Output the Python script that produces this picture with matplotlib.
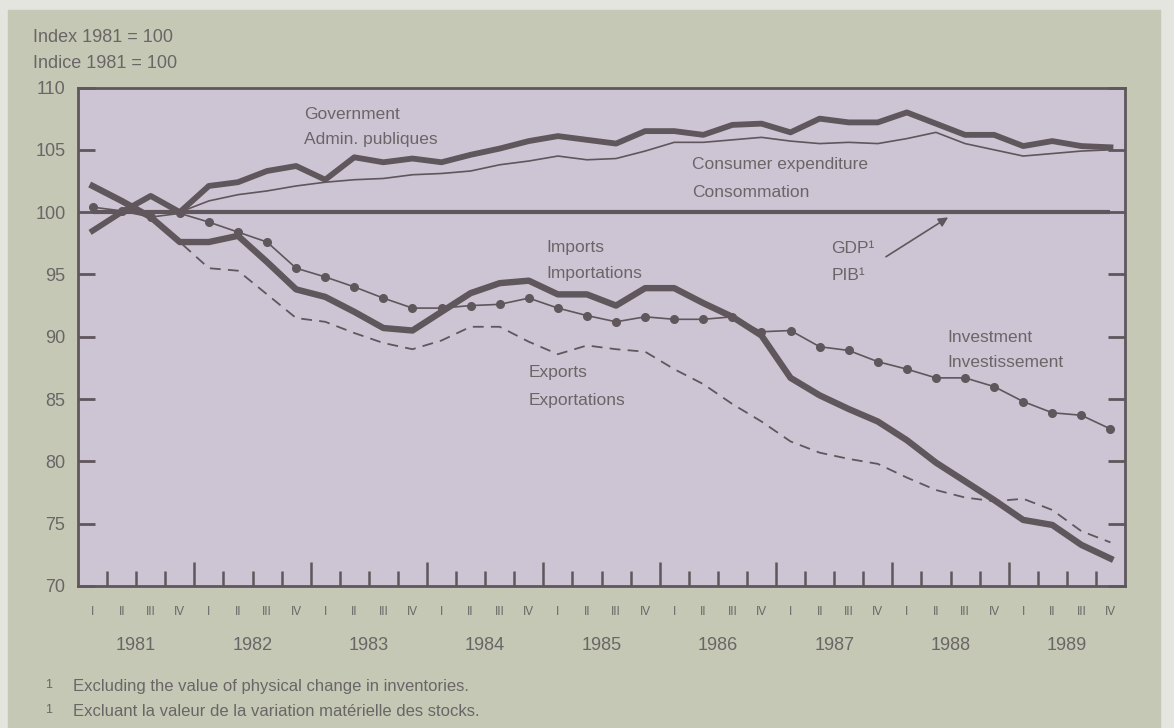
import matplotlib.pyplot as plt
import numpy as np
from matplotlib.patches import Rectangle

plt.rcParams['font.family'] = ['Liberation Sans', 'DejaVu Sans']

# quarterly data 1981 I - 1989 IV, index 1981 = 100
years = ['1981', '1982', '1983', '1984', '1985', '1986', '1987', '1988', '1989']
quarters = ['I', 'II', 'III', 'IV']

gdp = [100.0] * 36
government = [98.5, 100.0, 101.3, 100.0, 102.1, 102.4, 103.3, 103.7, 102.6, 104.4, 104.0, 104.3,
              104.0, 104.6, 105.1, 105.7, 106.1, 105.8, 105.5, 106.5, 106.5, 106.2, 107.0, 107.1,
              106.4, 107.5, 107.2, 107.2, 108.0, 107.1, 106.2, 106.2, 105.3, 105.7, 105.3, 105.2]
consumer = [100.0, 100.0, 100.0, 100.0, 100.9, 101.4, 101.7, 102.1, 102.4, 102.6, 102.7, 103.0,
            103.1, 103.3, 103.8, 104.1, 104.5, 104.2, 104.3, 104.9, 105.6, 105.6, 105.8, 106.0,
            105.7, 105.5, 105.6, 105.5, 105.9, 106.4, 105.5, 105.0, 104.5, 104.7, 104.9, 105.0]
imports = [102.1, 100.9, 99.6, 97.6, 97.6, 98.1, 96.0, 93.8, 93.2, 92.0, 90.7, 90.5,
           92.0, 93.5, 94.3, 94.5, 93.4, 93.4, 92.5, 93.9, 93.9, 92.7, 91.6, 90.1,
           86.7, 85.3, 84.2, 83.2, 81.7, 79.9, 78.4, 76.9, 75.3, 74.9, 73.3, 72.2]
investment = [100.4, 100.1, 99.6, 99.9, 99.2, 98.4, 97.6, 95.5, 94.8, 94.0, 93.1, 92.3,
              92.3, 92.5, 92.6, 93.1, 92.3, 91.7, 91.2, 91.6, 91.4, 91.4, 91.6, 90.4,
              90.5, 89.2, 88.9, 88.0, 87.4, 86.7, 86.7, 86.0, 84.8, 83.9, 83.7, 82.6]
exports = [102.1, 100.9, 99.6, 97.6, 95.5, 95.3, 93.4, 91.5, 91.2, 90.3, 89.5, 89.0,
           89.7, 90.8, 90.8, 89.6, 88.6, 89.3, 89.0, 88.8, 87.4, 86.2, 84.6, 83.2,
           81.6, 80.7, 80.2, 79.8, 78.7, 77.7, 77.1, 76.8, 77.0, 76.1, 74.4, 73.5]

ink = '#5f575c'
txt = '#6a6667'
green = '#c4c8b4'
lavender = '#cec5d4'

fig = plt.figure(figsize=(11.74, 7.28), dpi=100, facecolor='#e3e5de')
fig.patches.append(Rectangle((8 / 1174, 0), 1152 / 1174, 1 - 10 / 728,
                             transform=fig.transFigure, color=green, zorder=-1))

ax = fig.add_axes([78 / 1174, 1 - 586 / 728, 1047 / 1174, 498.5 / 728])
ax.set_facecolor(lavender)

x = np.arange(36) + 0.5
ax.plot(x, gdp, color=ink, lw=3.0, solid_capstyle='butt', zorder=3)
ax.plot(x, consumer, color=ink, lw=1.2, zorder=3)
ax.plot(x, government, color=ink, lw=4.2, solid_joinstyle='round', zorder=4)
ax.plot(x, exports, color=ink, lw=1.3, dashes=(6, 4), zorder=3)
ax.plot(x, investment, color=ink, lw=1.2, marker='o', ms=5.5, zorder=4)
ax.plot(x, imports, color=ink, lw=4.6, solid_joinstyle='round', zorder=5)

ax.set_xlim(0, 36)
ax.set_ylim(70, 110)
for s in ax.spines.values():
    s.set_color(ink)
    s.set_linewidth(2)

ax.set_yticks(np.arange(70, 111, 5))
ax.tick_params(axis='y', direction='in', length=12, width=2, color=ink,
               labelsize=13, labelcolor=txt, pad=9, right=True)
ax.set_xticks(np.arange(4, 36, 4))
ax.set_xticks(np.arange(1, 36), minor=True)
ax.tick_params(axis='x', which='major', direction='in', length=17, width=1.8, color=ink, labelbottom=False)
ax.tick_params(axis='x', which='minor', direction='in', length=11, width=1.8, color=ink)

xt = ax.get_xaxis_transform()
for i in range(36):
    ax.text(i + 0.5, -0.052, quarters[i % 4], transform=xt, ha='center', va='center',
            fontsize=8.5, color=txt)
for j, y in enumerate(years):
    ax.text(j * 4 + 2, -0.12, y, transform=xt, ha='center', va='center', fontsize=13, color=txt)

# series labels
lab = dict(ha='left', va='center', fontsize=12.5, color=txt)
ax.text(7.77, 107.8, 'Government', **lab)
ax.text(7.77, 105.8, 'Admin. publiques', **lab)
ax.text(21.1, 103.8, 'Consumer expenditure', **lab)
ax.text(21.1, 101.6, 'Consommation', **lab)
ax.text(25.9, 97.1, 'GDP\u00b9', **lab)
ax.text(25.9, 94.95, 'PIB\u00b9', **lab)
ax.text(16.1, 97.2, 'Imports', **lab)
ax.text(16.1, 95.1, 'Importations', **lab)
ax.text(15.5, 87.1, 'Exports', **lab)
ax.text(15.5, 84.9, 'Exportations', **lab)
ax.text(29.9, 89.9, 'Investment', **lab)
ax.text(29.9, 87.9, 'Investissement', **lab)
ax.annotate('', xy=(30.0, 99.7), xytext=(27.7, 96.3),
            arrowprops=dict(arrowstyle='-|>', color=ink, lw=1.2, mutation_scale=14))

fig.text(33 / 1174, 1 - 38 / 728, 'Index 1981 = 100', fontsize=13, color=txt, va='center')
fig.text(33 / 1174, 1 - 64 / 728, 'Indice 1981 = 100', fontsize=13, color=txt, va='center')

fig.text(45 / 1174, 1 - 685 / 728, '1', fontsize=9, color=txt, va='center')
fig.text(73 / 1174, 1 - 686 / 728, 'Excluding the value of physical change in inventories.',
         fontsize=12, color=txt, va='center')
fig.text(45 / 1174, 1 - 710 / 728, '1', fontsize=9, color=txt, va='center')
fig.text(73 / 1174, 1 - 711 / 728, 'Excluant la valeur de la variation mat\u00e9rielle des stocks.',
         fontsize=12, color=txt, va='center')

fig.savefig('out.png', dpi=100, facecolor=fig.get_facecolor())
